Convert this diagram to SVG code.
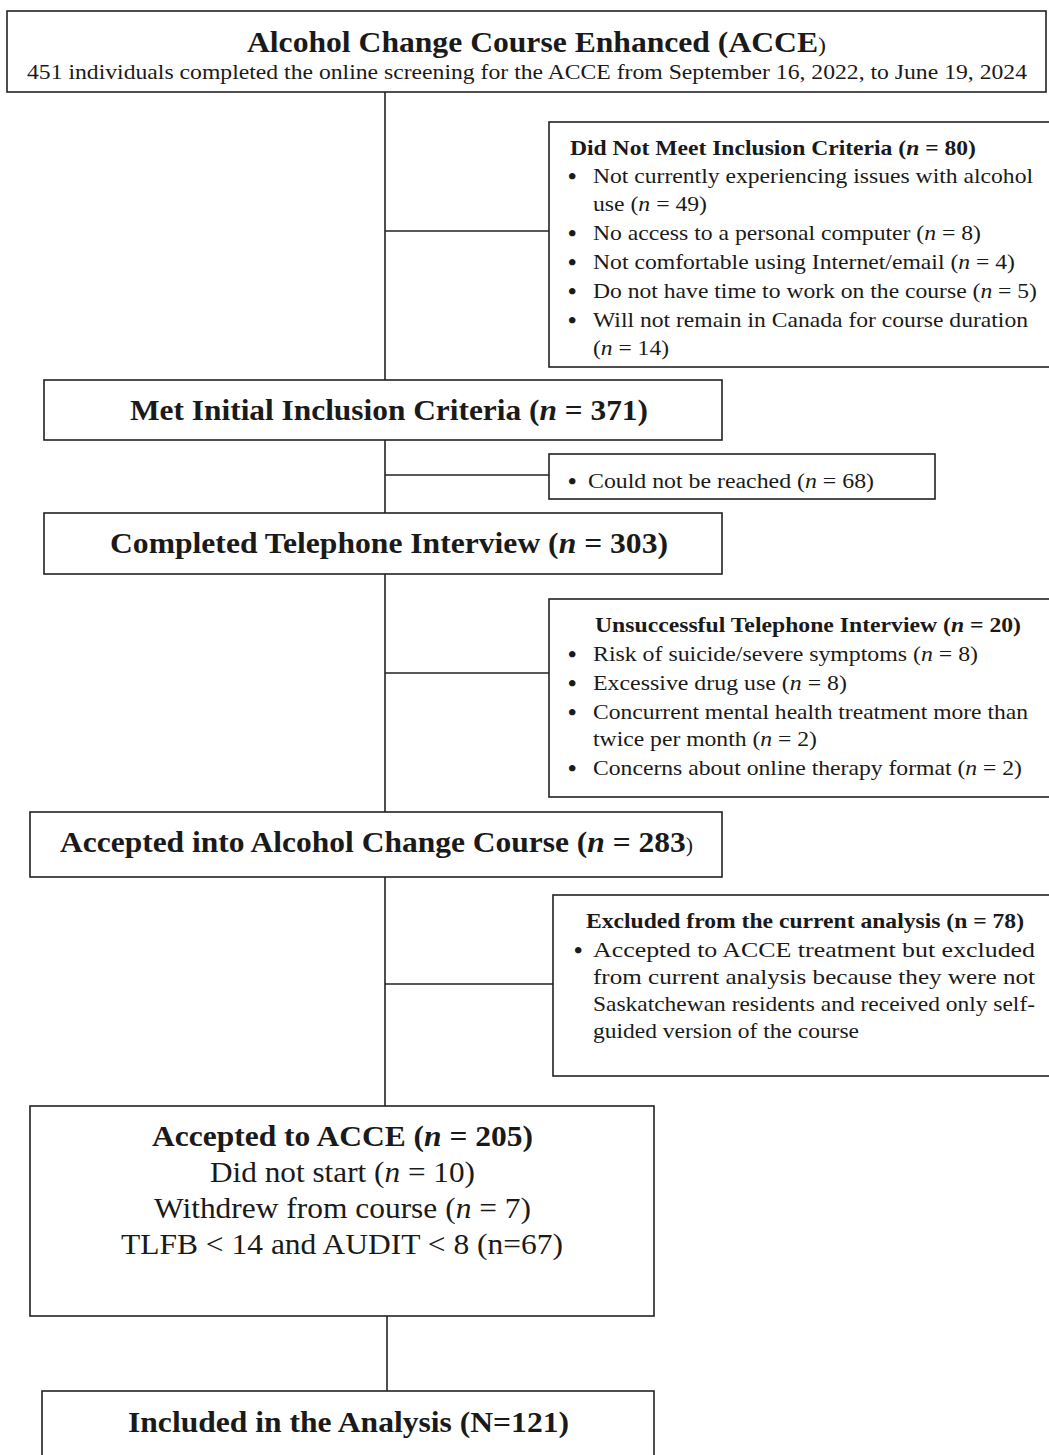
<svg xmlns="http://www.w3.org/2000/svg" width="1049" height="1455" viewBox="0 0 1049 1455" font-family="Liberation Serif, Tinos, Times New Roman, Times, serif">
<style>
.box{fill:#fff;stroke:#222;stroke-width:1.6}
.ln{stroke:#222;stroke-width:1.6;fill:none}
text{fill:#1a1a1a}
.h{font-size:29px;font-weight:bold}
.b{font-size:21px;font-weight:bold}
.t{font-size:21px}
.m{font-size:29px}
.s{font-size:20px}
.bul{font-size:24px;font-weight:bold}
</style>
<rect width="1049" height="1455" fill="#fff"/>
<g id="connectors">
<line class="ln" x1="385" y1="92" x2="385" y2="380"/>
<line class="ln" x1="385" y1="231" x2="549" y2="231"/>
<line class="ln" x1="385" y1="440" x2="385" y2="513"/>
<line class="ln" x1="385" y1="475" x2="549" y2="475"/>
<line class="ln" x1="385" y1="574" x2="385" y2="812"/>
<line class="ln" x1="385" y1="673" x2="549" y2="673"/>
<line class="ln" x1="385" y1="877" x2="385" y2="1106"/>
<line class="ln" x1="385" y1="984" x2="553" y2="984"/>
<line class="ln" x1="387" y1="1316" x2="387" y2="1391"/>
</g>
<g id="screening">
<rect class="box" x="7" y="11" width="1039" height="81"/>
<text class="h" x="247" y="52" textLength="579" lengthAdjust="spacingAndGlyphs">Alcohol Change Course Enhanced (ACCE<tspan font-weight="normal" font-size="22">)</tspan></text>
<text class="t" x="27" y="79" textLength="1000" lengthAdjust="spacingAndGlyphs">451 individuals completed the online screening for the ACCE from September 16, 2022, to June 19, 2024</text>
</g>
<g id="not-meet">
<rect class="box" x="549" y="122" width="510" height="245"/>
<text class="b" x="570" y="155" textLength="406" lengthAdjust="spacingAndGlyphs">Did Not Meet Inclusion Criteria (<tspan font-style="italic">n</tspan> = 80)</text>
<text class="bul" x="568" y="184">•</text>
<text class="t" x="593" y="183" textLength="440" lengthAdjust="spacingAndGlyphs">Not currently experiencing issues with alcohol</text>
<text class="t" x="593" y="211" textLength="114" lengthAdjust="spacingAndGlyphs">use (<tspan font-style="italic">n</tspan> = 49)</text>
<text class="bul" x="568" y="241">•</text>
<text class="t" x="593" y="240" textLength="388" lengthAdjust="spacingAndGlyphs">No access to a personal computer (<tspan font-style="italic">n</tspan> = 8)</text>
<text class="bul" x="568" y="270">•</text>
<text class="t" x="593" y="269" textLength="422" lengthAdjust="spacingAndGlyphs">Not comfortable using Internet/email (<tspan font-style="italic">n</tspan> = 4)</text>
<text class="bul" x="568" y="299">•</text>
<text class="t" x="593" y="298" textLength="444" lengthAdjust="spacingAndGlyphs">Do not have time to work on the course (<tspan font-style="italic">n</tspan> = 5)</text>
<text class="bul" x="568" y="328">•</text>
<text class="t" x="593" y="327" textLength="435" lengthAdjust="spacingAndGlyphs">Will not remain in Canada for course duration</text>
<text class="t" x="593" y="355" textLength="76" lengthAdjust="spacingAndGlyphs">(<tspan font-style="italic">n</tspan> = 14)</text>
</g>
<g id="met-initial">
<rect class="box" x="44" y="380" width="678" height="60"/>
<text class="h" x="130" y="420" textLength="518" lengthAdjust="spacingAndGlyphs">Met Initial Inclusion Criteria (<tspan font-style="italic">n</tspan> = 371)</text>
</g>
<g id="not-reached">
<rect class="box" x="549" y="454" width="386" height="45"/>
<text class="bul" x="568" y="489">•</text>
<text class="s" x="588" y="488" textLength="286" lengthAdjust="spacingAndGlyphs">Could not be reached (<tspan font-style="italic">n</tspan> = 68)</text>
</g>
<g id="completed-interview">
<rect class="box" x="44" y="513" width="678" height="61"/>
<text class="h" x="110" y="553" textLength="558" lengthAdjust="spacingAndGlyphs">Completed Telephone Interview (<tspan font-style="italic">n</tspan> = 303)</text>
</g>
<g id="unsuccessful">
<rect class="box" x="549" y="599" width="510" height="198"/>
<text class="b" x="595" y="632" textLength="426" lengthAdjust="spacingAndGlyphs">Unsuccessful Telephone Interview (<tspan font-style="italic">n</tspan> = 20)</text>
<text class="bul" x="568" y="662">•</text>
<text class="t" x="593" y="661" textLength="385" lengthAdjust="spacingAndGlyphs">Risk of suicide/severe symptoms (<tspan font-style="italic">n</tspan> = 8)</text>
<text class="bul" x="568" y="691">•</text>
<text class="t" x="593" y="690" textLength="254" lengthAdjust="spacingAndGlyphs">Excessive drug use (<tspan font-style="italic">n</tspan> = 8)</text>
<text class="bul" x="568" y="720">•</text>
<text class="t" x="593" y="719" textLength="435" lengthAdjust="spacingAndGlyphs">Concurrent mental health treatment more than</text>
<text class="t" x="593" y="746" textLength="224" lengthAdjust="spacingAndGlyphs">twice per month (<tspan font-style="italic">n</tspan> = 2)</text>
<text class="bul" x="568" y="776">•</text>
<text class="t" x="593" y="775" textLength="429" lengthAdjust="spacingAndGlyphs">Concerns about online therapy format (<tspan font-style="italic">n</tspan> = 2)</text>
</g>
<g id="accepted-course">
<rect class="box" x="30" y="812" width="692" height="65"/>
<text class="h" x="60" y="852" textLength="633" lengthAdjust="spacingAndGlyphs">Accepted into Alcohol Change Course (<tspan font-style="italic">n</tspan> = 283<tspan font-weight="normal" font-size="20">)</tspan></text>
</g>
<g id="excluded">
<rect class="box" x="553" y="895" width="506" height="181"/>
<text class="b" x="586" y="928" textLength="438" lengthAdjust="spacingAndGlyphs">Excluded from the current analysis (n = 78)</text>
<text class="bul" x="574" y="958">•</text>
<text class="t" x="593" y="957" textLength="442" lengthAdjust="spacingAndGlyphs">Accepted to ACCE treatment but excluded</text>
<text class="t" x="593" y="984" textLength="442" lengthAdjust="spacingAndGlyphs">from current analysis because they were not</text>
<text class="t" x="593" y="1011" textLength="442" lengthAdjust="spacingAndGlyphs">Saskatchewan residents and received only self-</text>
<text class="t" x="593" y="1038" textLength="266" lengthAdjust="spacingAndGlyphs">guided version of the course</text>
</g>
<g id="accepted-acce">
<rect class="box" x="30" y="1106" width="624" height="210"/>
<text class="h" x="152" y="1146" textLength="381" lengthAdjust="spacingAndGlyphs">Accepted to ACCE (<tspan font-style="italic">n</tspan> = 205)</text>
<text class="m" x="210" y="1182" textLength="265" lengthAdjust="spacingAndGlyphs">Did not start (<tspan font-style="italic">n</tspan> = 10)</text>
<text class="m" x="154" y="1218" textLength="377" lengthAdjust="spacingAndGlyphs">Withdrew from course (<tspan font-style="italic">n</tspan> = 7)</text>
<text class="m" x="121" y="1254" textLength="442" lengthAdjust="spacingAndGlyphs">TLFB &lt; 14 and AUDIT &lt; 8 (n=67)</text>
</g>
<g id="included">
<rect class="box" x="42" y="1391" width="612" height="80"/>
<text class="h" x="128" y="1432" textLength="441" lengthAdjust="spacingAndGlyphs">Included in the Analysis (N=121)</text>
</g>
</svg>
